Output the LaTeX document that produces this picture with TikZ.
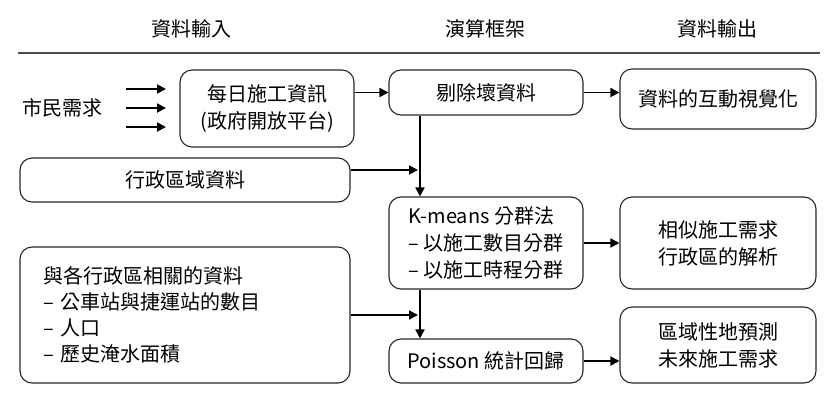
\documentclass[tikz,border=0pt]{standalone}
\usepackage{fontspec}
\setmainfont{Noto Sans CJK TC}
\usetikzlibrary{arrows.meta}

\begin{document}
\begin{tikzpicture}
[x=1pt,y=-1pt,every node/.style={font=\fontsize{20}{27}\selectfont,inner sep=0pt},
box/.style={draw=black!85,line width=1.1pt,rounded corners=12pt,align=center,minimum width=194pt},
arr/.style={-{Triangle[length=9pt,width=9pt]},line width=1.8pt}]
\useasboundingbox (0,0) rectangle (835,402);
% column titles
\node (hin) at (191,29) {資料輸入};
\node (halg) at (485,29) {演算框架};
\node (hout) at (717,29) {資料輸出};
\draw[line width=1.4pt,black!70] (18,53) -- (820,53);
% input column
\node (citizen) at (62,108) {市民需求};
\node[box,minimum width=174pt,minimum height=77pt] (daily) at (267,108.5) {每日施工資訊\\(政府開放平台)};
\node[box,minimum width=330pt,minimum height=44pt] (admin) at (185,180) {行政區域資料};
\node[box,minimum width=330pt,minimum height=136pt,text width=284pt,align=left,font=\fontsize{20}{26}\selectfont] (related) at (185,315)
  {與各行政區相關的資料\\– 公車站與捷運站的數目\\– 人口\\– 歷史淹水面積};
% algorithm column
\node[box,minimum height=45pt] (clean) at (486,92.5) {剔除壞資料};
\node[box,minimum height=92pt,align=left] (kmeans) at (486,243) {K-means 分群法\\– 以施工數目分群\\– 以施工時程分群};
\node[box,minimum height=44pt] (poisson) at (486,361) {Poisson 統計回歸};
% output column
\node[box,minimum width=196pt,minimum height=60pt] (vis) at (718,99) {資料的互動視覺化};
\node[box,minimum width=196pt,minimum height=92pt] (similar) at (718,243) {相似施工需求\\行政區的解析};
\node[box,minimum width=196pt,minimum height=76pt] (predict) at (718,345) {區域性地預測\\未來施工需求};
% arrows
\coordinate (spine) at (420,0);
\foreach \i/\y in {1/89,2/108,3/127}
{\coordinate (s\i) at (126,\y); \coordinate (t\i) at (166,\y);
\draw[arr] (s\i) -- (t\i);}
\draw[arr] (daily.east |- clean.west) -- (clean.west);
\draw[arr] (clean.east) -- (vis.west |- clean.east);
\draw[arr] (clean.south -| spine) -- (kmeans.north -| spine);
\draw[arr] ([yshift=10pt]admin.east) -- ([yshift=10pt,xshift=-2pt]admin.east -| spine);
\draw[arr] (kmeans.east) -- (similar.west);
\draw[arr] (kmeans.south -| spine) -- (poisson.north -| spine);
\draw[arr] (related.east) -- ([xshift=-2pt]related.east -| spine);
\draw[arr] (poisson.east) -- (predict.west |- poisson.east);
\end{tikzpicture}
\end{document}
